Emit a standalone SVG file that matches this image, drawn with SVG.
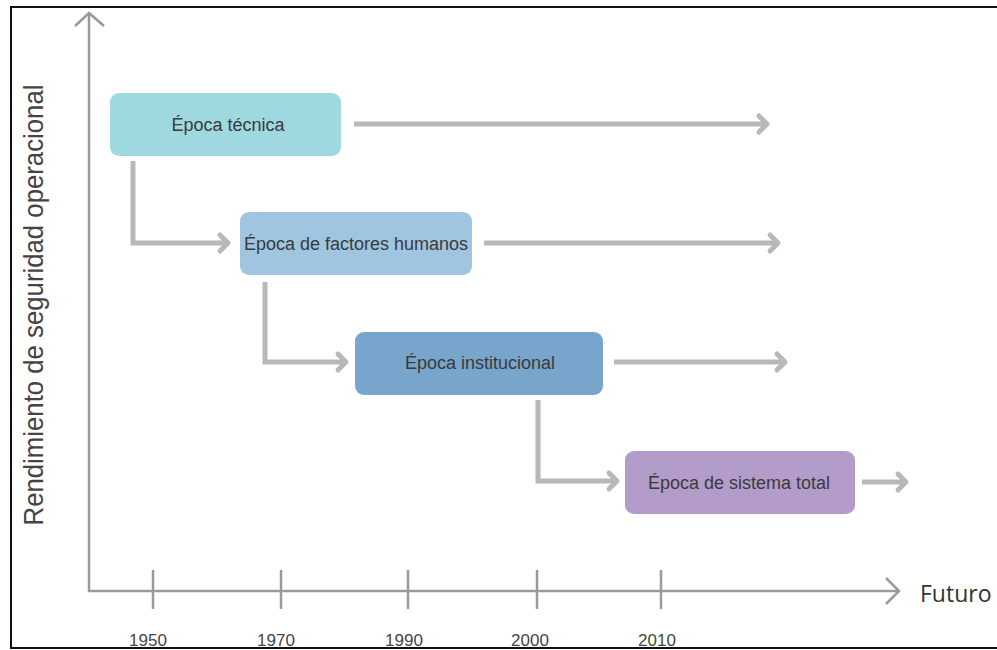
<svg xmlns="http://www.w3.org/2000/svg" width="997" height="650" viewBox="0 0 997 650">
<style>
.box{stroke:none}
.lbl{font-family:"Liberation Sans",Arial,sans-serif;font-size:18px;fill:#3a3a3a;text-anchor:middle}
.yr{font-family:"Liberation Sans",Arial,sans-serif;font-size:17px;fill:#444;text-anchor:middle}
.axis{stroke:#9a9a9a;stroke-width:2.5;fill:none}
.tick{stroke:#9a9a9a;stroke-width:2.5}
.conn{stroke:#b8b8b8;stroke-width:5;fill:none;stroke-linejoin:miter}
</style>
<defs>
<marker id="ah" markerUnits="userSpaceOnUse" markerWidth="24" markerHeight="24" refX="0" refY="0" viewBox="-14 -12 18 24" orient="auto" overflow="visible">
<path d="M-8,-8 L0,0 L-8,8" fill="none" stroke="#b8b8b8" stroke-width="5" stroke-linecap="round" stroke-linejoin="round"/>
</marker>
</defs>
<rect x="0" y="0" width="997" height="650" fill="#fff"/>
<rect x="11" y="7" width="1000" height="641" fill="none" stroke="#111" stroke-width="2"/>

<g id="axes">
<path class="axis" d="M89,14 V591 H898"/>
<path class="axis" d="M75,26 L89,13 L104,26"/>
<path class="axis" d="M886,578 L899,591 L886,604"/>
<line class="tick" x1="153" y1="570" x2="153" y2="609"/>
<line class="tick" x1="281" y1="570" x2="281" y2="609"/>
<line class="tick" x1="408" y1="570" x2="408" y2="609"/>
<line class="tick" x1="537" y1="570" x2="537" y2="609"/>
<line class="tick" x1="661" y1="570" x2="661" y2="609"/>
<text class="yr" x="148" y="646">1950</text>
<text class="yr" x="276" y="646">1970</text>
<text class="yr" x="404" y="646">1990</text>
<text class="yr" x="530" y="646">2000</text>
<text class="yr" x="657" y="646">2010</text>
<text x="920" y="602" font-family="'Open Sans','Liberation Sans',sans-serif" font-size="23" fill="#333">Futuro</text>
<text transform="translate(43,305) rotate(-90) scale(0.92,1)" text-anchor="middle" font-family="'Liberation Sans',Arial,sans-serif" font-size="28" fill="#444">Rendimiento de seguridad operacional</text>
</g>

<g id="connectors">
<path class="conn" d="M133,161 V243 H228" marker-end="url(#ah)"/>
<path class="conn" d="M265,282 V362 H346" marker-end="url(#ah)"/>
<path class="conn" d="M538,400 V481 H617" marker-end="url(#ah)"/>
<path class="conn" d="M354,124 H767" marker-end="url(#ah)"/>
<path class="conn" d="M484,243 H778" marker-end="url(#ah)"/>
<path class="conn" d="M614,362 H785" marker-end="url(#ah)"/>
<path class="conn" d="M862,482 H906" marker-end="url(#ah)"/>
</g>

<g id="n1">
<rect class="box" x="110" y="93" width="231" height="63" rx="9" fill="#9fd8df"/>
<text class="lbl" x="228" y="131">Época técnica</text>
</g>
<g id="n2">
<rect class="box" x="240" y="212" width="232" height="63" rx="9" fill="#9fc5e0"/>
<text class="lbl" x="356" y="250">Época de factores humanos</text>
</g>
<g id="n3">
<rect class="box" x="355" y="332" width="248" height="63" rx="9" fill="#78a5cb"/>
<text class="lbl" x="480" y="369">Época institucional</text>
</g>
<g id="n4">
<rect class="box" x="625" y="451" width="230" height="63" rx="9" fill="#b39cc9"/>
<text class="lbl" x="739" y="489">Época de sistema total</text>
</g>
</svg>
